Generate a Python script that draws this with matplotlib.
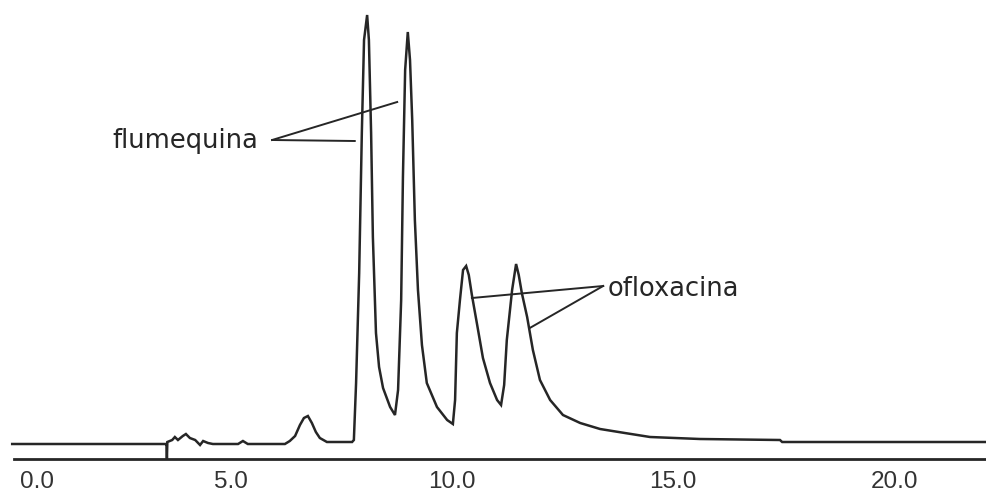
import numpy as np
import matplotlib.pyplot as plt
from matplotlib.transforms import ScaledTranslation

# retention time (min) and detector signal (arbitrary units)
time = [0.05, 3.51, 3.54, 3.55, 3.56, 3.67, 3.73, 3.80, 3.91, 3.98, 4.07, 4.19,
        4.30, 4.37, 4.48, 4.59, 5.16, 5.27, 5.38, 6.22, 6.33, 6.45, 6.56, 6.65,
        6.74, 6.83, 6.92, 7.01, 7.17, 7.74, 7.78, 7.83, 7.90, 7.96, 8.01, 8.08,
        8.12, 8.17, 8.21, 8.28, 8.35, 8.44, 8.60, 8.71, 8.78, 8.85, 8.89, 8.94,
        9.00, 9.05, 9.10, 9.16, 9.23, 9.32, 9.43, 9.66, 9.89, 10.02, 10.07, 10.11,
        10.18, 10.25, 10.32, 10.38, 10.45, 10.57, 10.70, 10.86, 11.02, 11.11, 11.18,
        11.24, 11.36, 11.45, 11.51, 11.58, 11.70, 11.83, 11.99, 12.22, 12.51, 12.90,
        13.35, 13.91, 14.48, 15.61, 17.42, 17.47, 22.10]
signal = [0, 0, 0, -15, 2, 4, 7, 4, 8, 10, 6, 4,
          -1, 3, 1, 0, 0, 3, 0, 0, 3, 8, 19, 26,
          28, 21, 12, 6, 2, 2, 4, 61, 171, 311, 404, 429,
          404, 311, 207, 111, 77, 56, 37, 29, 54, 144, 267, 374,
          412, 384, 324, 224, 154, 99, 61, 37, 24, 20, 44, 111,
          144, 174, 178, 169, 149, 119, 86, 61, 44, 39, 59,
          104, 154, 180, 169, 151, 127, 94, 64, 44, 29, 21,
          15, 11, 7, 5, 4, 2, 2]

ticks = [0, 5, 10, 15, 20]
tick_labels = ['0.0', '5.0', '10.0', '15.0', '20.0']

ink = '#262626'

fig = plt.figure(figsize=(9.87, 4.97), dpi=100)
ax = fig.add_axes([0, 0, 1, 1])
ax.plot(time, signal, color=ink, lw=1.8, solid_joinstyle='miter')

ax.set_xlim(-0.226, 22.104)
ax.set_ylim(-53, 444)

for side in ['left', 'right', 'top']:
    ax.spines[side].set_visible(False)
ax.spines['bottom'].set_position(('data', -15))
ax.spines['bottom'].set_bounds(0.09, 22.1)
ax.spines['bottom'].set_linewidth(2)
ax.spines['bottom'].set_color(ink)

ax.set_yticks([])
ax.set_xticks(ticks)
ax.set_xticklabels(tick_labels, fontsize=17.5, family='Liberation Sans', color='#333333')
ax.tick_params(axis='x', length=0, pad=9)
first = ax.get_xticklabels()[0]
first.set_ha('left')
first.set_transform(first.get_transform() + ScaledTranslation(0.1, 0, fig.dpi_scale_trans))

# peak labels with leader lines
txt = dict(fontsize=18.5, family='DejaVu Sans', color=ink)
ax.text(5.61, 303, 'flumequina', ha='right', va='center', **txt)
ax.plot([5.93, 8.76], [304, 342], color=ink, lw=1.4)
ax.plot([5.93, 7.80], [304, 303], color=ink, lw=1.4)

ax.text(13.53, 155, 'ofloxacina', ha='left', va='center', **txt)
ax.plot([13.42, 10.45], [158, 146], color=ink, lw=1.4)
ax.plot([13.42, 11.76], [158, 116], color=ink, lw=1.4)

fig.savefig('out.png', dpi=100)
